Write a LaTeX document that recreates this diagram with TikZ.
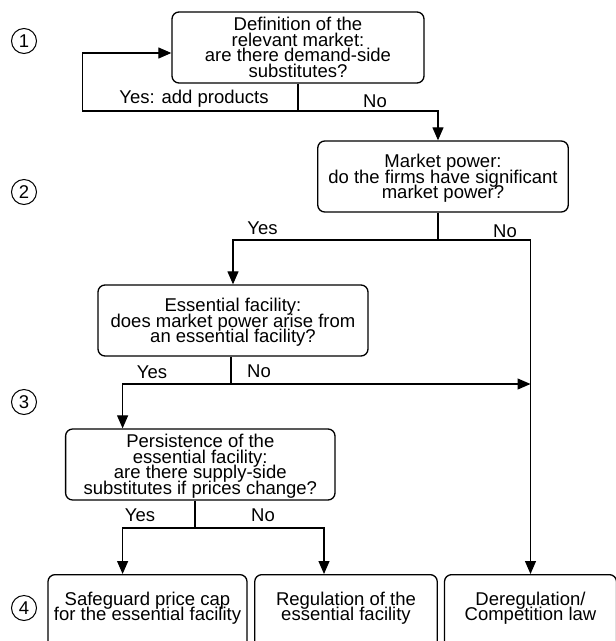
\documentclass[tikz,border=0pt]{standalone}
\usepackage{fontspec}
\setmainfont{Liberation Sans}
\usetikzlibrary{arrows.meta,positioning}
\newcommand{\qfont}{\fontsize{18.5}{15.5}\selectfont\lineskiplimit=-20pt}
\tikzset{
  qbox/.style={draw, rounded corners=7pt, line width=1.3pt, align=center, inner sep=0pt, minimum height=71pt, text depth=-3pt, font=\qfont},
  endbox/.style={draw, rounded corners=7pt, line width=1.3pt, align=center, anchor=north, inner xsep=0pt, inner ysep=17pt, text depth=50pt, font=\qfont},
  stepno/.style={draw, circle, minimum size=25pt, inner sep=0pt, line width=1pt, font=\qfont},
  lbl/.style={font=\qfont, inner sep=0pt},
  flow/.style={line width=1.2pt, -{Triangle[length=13pt,width=11pt]}},
  link/.style={line width=1.2pt}
}
\begin{document}
\begin{tikzpicture}[x=1pt,y=-1pt]
  \useasboundingbox (0,0) rectangle (616,641);
  \node[qbox, minimum width=252pt] (market) at (298,47.5) {Definition of the\\relevant market:\\are there demand-side\\substitutes?};
  \node[qbox, minimum width=250.5pt] (power) at (443,176.5) {Market power:\\do the firms have significant\\market power?};
  \node[qbox, minimum width=270pt] (facility) at (233,320.5) {Essential facility:\\does market power arise from\\an essential facility?};
  \node[qbox, minimum width=269.4pt] (persist) at (200.3,464.5) {Persistence of the\\essential facility:\\are there supply-side\\substitutes if prices change?};
  \node[endbox, minimum width=199pt] (pricecap) at (147.5,574) {Safeguard price cap\\for the essential facility};
  \node[endbox, minimum width=182.5pt] (regulate) at (346,574) {Regulation of the\\essential facility};
  \node[endbox, minimum width=172pt] (dereg) at (530.5,574) {Deregulation/\\Competition law};
  \node[stepno] (s1) at (24,41) {1};
  \node[stepno] (s2) at (24,192) {2};
  \node[stepno] (s3) at (24,402) {3};
  \node[stepno] (s4) at (24,608) {4};
  \coordinate (j1) at (298,111);
  \coordinate (back) at (82.5,111);
  \coordinate (j2) at (438,240);
  \coordinate (j3) at (231,384);
  \coordinate (y3) at (122.6,384);
  \coordinate (j4) at (195,528);
  \coordinate (y4) at (122.6,528);
  \coordinate (n4) at (324,528);
  \draw[link] (market.south) -- (j1);
  \draw[flow] (j1) -- (back) |- ([yshift=-5.5pt]market.west);
  \draw[flow] (j1) -| ([xshift=-5pt]power.north);
  \draw[link] (j2 |- power.south) -- (j2);
  \draw[flow] (j2) -| (facility.north);
  \draw[flow] (j2) -| (dereg.north);
  \draw[link] (j3 |- facility.south) -- (j3);
  \draw[flow] (j3) -- (y3) -- (y3 |- persist.north);
  \draw[flow] (j3) -- (j3 -| dereg.north);
  \draw[link] (j4 |- persist.south) -- (j4);
  \draw[flow] (j4) -- (y4) -- (y4 |- pricecap.north);
  \draw[flow] (j4) -- (n4) -- (n4 |- regulate.north);
  \node[lbl] (l1) at (194,99) {Yes: add products};
  \node[lbl] (l2) at (375,101) {No};
  \node[lbl] (l3) at (262.5,228) {Yes};
  \node[lbl] (l4) at (505,231) {No};
  \node[lbl] (l5) at (152,372) {Yes};
  \node[lbl] (l6) at (259,371) {No};
  \node[lbl] (l7) at (140,515) {Yes};
  \node[lbl] (l8) at (263,515) {No};
\end{tikzpicture}
\end{document}
